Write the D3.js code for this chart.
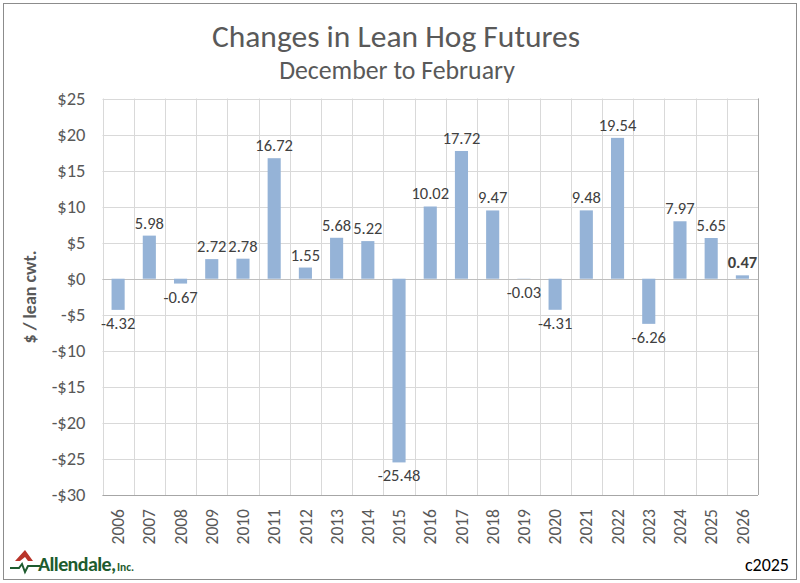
<!DOCTYPE html>
<html><head><meta charset="utf-8">
<script src="https://cdn.jsdelivr.net/npm/d3@7/dist/d3.min.js"></script>
<style>body{margin:0;background:#fff}svg{display:block}</style>
</head><body>
<svg id="c" width="800" height="583"></svg>
<script>
const years = ["2006","2007","2008","2009","2010","2011","2012","2013","2014","2015","2016","2017","2018","2019","2020","2021","2022","2023","2024","2025","2026"];
const changes = [-4.32,5.98,-0.67,2.72,2.78,16.72,1.55,5.68,5.22,-25.48,10.02,17.72,9.47,-0.03,-4.31,9.48,19.54,-6.26,7.97,5.65,0.47];
const yTicks = [25,20,15,10,5,0,-5,-10,-15,-20,-25,-30];

const svg = d3.select("#c");
const font = "Carlito, Calibri, 'Liberation Sans', 'Open Sans', sans-serif";
svg.append("rect").attr("x",3.5).attr("y",3.5).attr("width",793).attr("height",576)
  .attr("fill","#fff").attr("stroke","#8c8c8c").attr("stroke-width",1);

const L=102.5,R=758,T=98.5,B=495;
const x = d3.scaleBand().domain(years).range([L,R]).paddingInner(0.58).paddingOuter(0.29);
const y = d3.scaleLinear().domain([-30,25]).range([B,T]);

// horizontal grid
svg.append("g").selectAll("line").data(yTicks).join("line")
  .attr("x1",L).attr("x2",R).attr("y1",d=>Math.round(y(d))+0.5).attr("y2",d=>Math.round(y(d))+0.5)
  .attr("stroke","#d9d9d9").attr("stroke-width",1);
// vertical grid at category boundaries
const step = (R-L)/years.length;
svg.append("g").selectAll("line").data(d3.range(years.length+1)).join("line")
  .attr("x1",i=>Math.round(L+i*step)+0.5).attr("x2",i=>Math.round(L+i*step)+0.5)
  .attr("y1",T).attr("y2",B).attr("stroke","#d9d9d9").attr("stroke-width",1);
// axis lines
svg.append("line").attr("x1",L).attr("x2",R).attr("y1",Math.round(y(0))+0.5).attr("y2",Math.round(y(0))+0.5).attr("stroke","#bfbfbf");
svg.append("line").attr("x1",L).attr("x2",R).attr("y1",B+0.5).attr("y2",B+0.5).attr("stroke","#a6a6a6");
svg.append("line").attr("x1",R+0.5).attr("x2",R+0.5).attr("y1",T).attr("y2",B).attr("stroke","#a6a6a6");

// y axis labels via d3 axis
const yAxis = d3.axisLeft(y).tickValues(yTicks).tickSize(0).tickPadding(17)
  .tickFormat(d=> d<0 ? "-$"+Math.abs(d) : "$"+d);
const ga = svg.append("g").attr("transform",`translate(${L},0)`).call(yAxis);
ga.select(".domain").remove();
ga.selectAll("text").attr("font-family",font).attr("font-size",18.5).attr("fill","#595959");

// x axis labels
const xAxis = d3.axisBottom(x).tickSize(0).tickPadding(0);
const gx = svg.append("g").attr("transform",`translate(0,${B})`).call(xAxis);
gx.select(".domain").remove();
gx.selectAll("text").attr("font-family",font).attr("font-size",17.5).attr("fill","#595959")
  .attr("transform","rotate(-90)").attr("text-anchor","end").attr("dy","0.35em")
  .attr("x",-14).attr("y",0);

// bars
svg.append("g").selectAll("rect").data(years).join("rect")
  .attr("x",(d)=>x(d)).attr("width",x.bandwidth())
  .attr("y",(d,i)=>y(Math.max(0,changes[i])))
  .attr("height",(d,i)=>Math.abs(y(changes[i])-y(0)))
  .attr("fill","#95b3d7");

// labels
svg.append("g").selectAll("text").data(years).join("text")
  .attr("x",d=>x(d)+x.bandwidth()/2)
  .attr("y",(d,i)=> changes[i]>=0 ? y(changes[i])-7 : y(changes[i])+19)
  .attr("text-anchor","middle").attr("font-family",font).attr("font-size",16.5)
  .attr("fill","#404040").attr("font-weight",(d,i)=>i===years.length-1?"bold":"normal")
  .text((d,i)=>changes[i].toFixed(2));

// titles
svg.append("text").attr("x",396).attr("y",47).attr("text-anchor","middle")
  .attr("font-family",font).attr("font-size",31.5).attr("fill","#595959").text("Changes in Lean Hog Futures");
svg.append("text").attr("x",397).attr("y",78.5).attr("text-anchor","middle")
  .attr("font-family",font).attr("font-size",25.8).attr("fill","#595959").text("December to February");
svg.append("text").attr("transform","translate(36,297) rotate(-90)").attr("text-anchor","middle")
  .attr("font-family",font).attr("font-size",18).attr("font-weight","bold").attr("fill","#595959").text("$ / lean cwt.");
svg.append("text").attr("x",789).attr("y",571).attr("text-anchor","end")
  .attr("font-family",font).attr("font-size",18).attr("fill","#000").text("c2025");

// logo
const lg = svg.append("g");
lg.append("path").attr("d","M15,561 L25,550 L33,561 L28,561 L25,557 L20,561 Z").attr("fill","#b8342a");
lg.append("path").attr("d","M10,568 L19,568 L22,564 L25,572 L28,566 L40,566").attr("fill","none").attr("stroke","#1d5b2e").attr("stroke-width",2);
lg.append("text").attr("x",38).attr("y",571).attr("font-family",font).attr("font-size",20).attr("font-weight","bold")
  .attr("fill","#1d5b2e").attr("letter-spacing",-0.6).text("Allendale,");
lg.append("text").attr("x",117).attr("y",571).attr("font-family",font).attr("font-size",11.5).attr("font-weight","bold")
  .attr("fill","#1d5b2e").text("Inc.");
</script>
</body></html>
